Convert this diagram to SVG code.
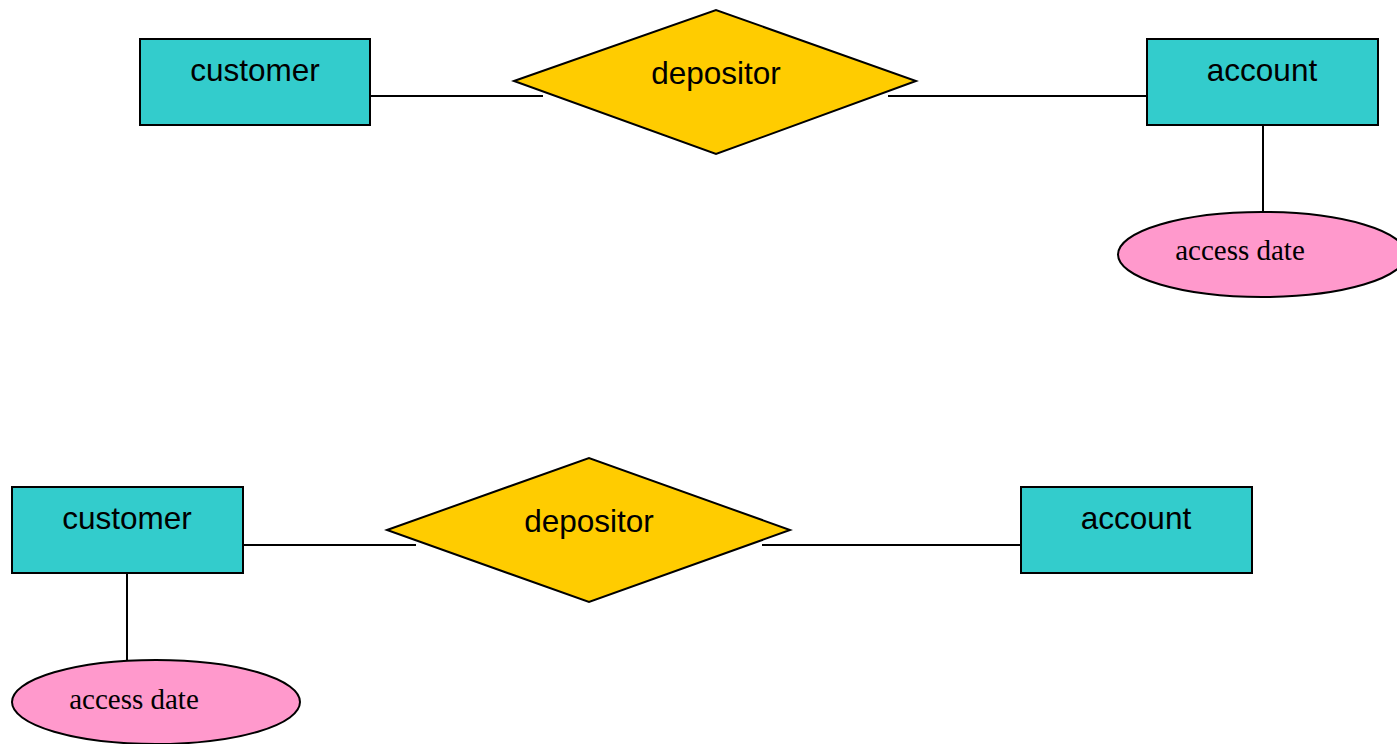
<svg xmlns="http://www.w3.org/2000/svg" width="1397" height="744" viewBox="0 0 1397 744">
<style>
.ent{fill:#33CCCC;stroke:#000;stroke-width:2}
.rel{fill:#FFCC00;stroke:#000;stroke-width:2}
.att{fill:#FF99CC;stroke:#000;stroke-width:2}
.conn line{stroke:#000;stroke-width:2}
.t{font-family:"Liberation Sans",Arial,sans-serif;font-size:31.5px;text-anchor:middle;fill:#000}
.a{font-family:"Liberation Serif","Times New Roman",serif;font-size:29px;text-anchor:middle;fill:#000}
</style>
<rect width="1397" height="744" fill="#fff"/>
<g class="conn" id="connectors">
<line x1="370" y1="96" x2="543" y2="96"/>
<line x1="888" y1="96" x2="1147" y2="96"/>
<line x1="1263" y1="125" x2="1263" y2="212"/>
<line x1="243" y1="545" x2="416" y2="545"/>
<line x1="762" y1="545" x2="1021" y2="545"/>
<line x1="127" y1="573" x2="127" y2="660"/>
</g>
<g id="customer1"><rect class="ent" x="140" y="39" width="230" height="86"/><text class="t" x="255" y="81">customer</text></g>
<g id="depositor1"><polygon class="rel" points="514,81 716,10 916,81 716,154"/><text class="t" x="716" y="84">depositor</text></g>
<g id="account1"><rect class="ent" x="1147" y="39" width="231" height="86"/><text class="t" x="1262" y="81">account</text></g>
<g id="accessdate1"><ellipse class="att" cx="1262" cy="254.5" rx="144" ry="42.5"/><text class="a" x="1240" y="260">access date</text></g>
<g id="customer2"><rect class="ent" x="12" y="487" width="231" height="86"/><text class="t" x="127" y="529">customer</text></g>
<g id="depositor2"><polygon class="rel" points="387,530 589,458 790,530 589,602"/><text class="t" x="589" y="532">depositor</text></g>
<g id="account2"><rect class="ent" x="1021" y="487" width="231" height="86"/><text class="t" x="1136" y="529">account</text></g>
<g id="accessdate2"><ellipse class="att" cx="156" cy="702" rx="144" ry="42"/><text class="a" x="134" y="709">access date</text></g>
</svg>
